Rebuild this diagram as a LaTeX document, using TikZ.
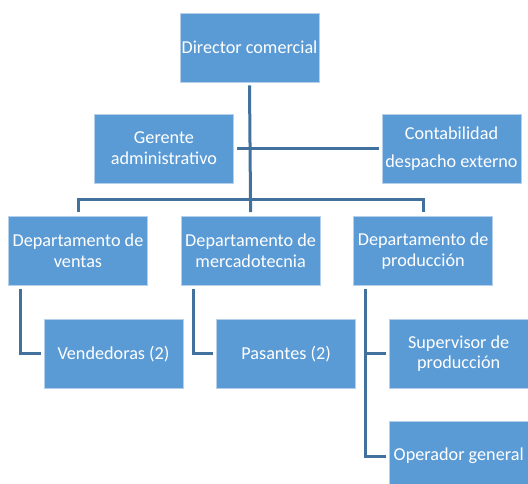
\documentclass[tikz,border=0pt]{standalone}
\usepackage{fontspec}
\setmainfont{Carlito}
\usepackage{tikz}
\usetikzlibrary{positioning}
\definecolor{boxblue}{RGB}{91,155,213}
\definecolor{boxedge}{RGB}{180,208,235}
\definecolor{linkcol}{RGB}{65,113,156}
\tikzset{
  unit/.style ={rectangle, draw=boxedge, line width=0.6pt, fill=boxblue, text=white,
                align=center, minimum width=139pt, minimum height=69pt, inner sep=0pt,
                font=\fontsize{18.2}{20.7}\selectfont},
  link/.style ={draw=linkcol, line width=3pt},
}

\begin{document}
\begin{tikzpicture}[x=1pt,y=-1pt]
    \useasboundingbox (0,0) rectangle (528,483);
    \node[unit] (dir) at (249.5,47.5) {Director comercial};
    \node[unit] (ger) at (164,148.5) {Gerente\\ administrativo};
    \node[unit] (cont) at (451.5,148.5) {Contabilidad\\[8pt] despacho externo};
    \node[unit] (ventas) at (78,251) {Departamento de\\ ventas};
    \node[unit, right=33pt of ventas] (merc) {Departamento de\\ mercadotecnia};
    \node[unit, right=33pt of merc] (prod) {Departamento de\\ producción};
    \node[unit, below=33pt of ventas, xshift=35.5pt] (vend) {Vendedoras (2)};
    \node[unit, below=33pt of merc, xshift=35.5pt] (pas) {Pasantes (2)};
    \node[unit, below=33pt of prod, xshift=35.5pt] (sup) {Supervisor de\\ producción};
    \node[unit, below=33pt of sup] (oper) {Operador general};
    \coordinate (bus) at ([yshift=17pt]merc.north);
    \coordinate (pdrop) at ([xshift=12.5pt,yshift=-3pt]prod.south west);
    \draw[link] ([yshift=-3pt]dir.south) -- ([yshift=4pt]merc.north);
    \draw[link] ([xshift=3pt]ger.east) -- ([xshift=-3pt]cont.west);
    \draw[link] ([yshift=4pt]ventas.north) |- (bus) -| ([yshift=4pt]prod.north);
    \draw[link] ([xshift=12.5pt,yshift=-3pt]ventas.south west) |- ([xshift=-3pt]vend.west);
    \draw[link] ([xshift=12.5pt,yshift=-3pt]merc.south west) |- ([xshift=-3pt]pas.west);
    \draw[link] (pdrop) |- ([xshift=-3pt]oper.west);
    \draw[link] (pdrop |- sup.west) -- ([xshift=-3pt]sup.west);
  \end{tikzpicture}
\end{document}
